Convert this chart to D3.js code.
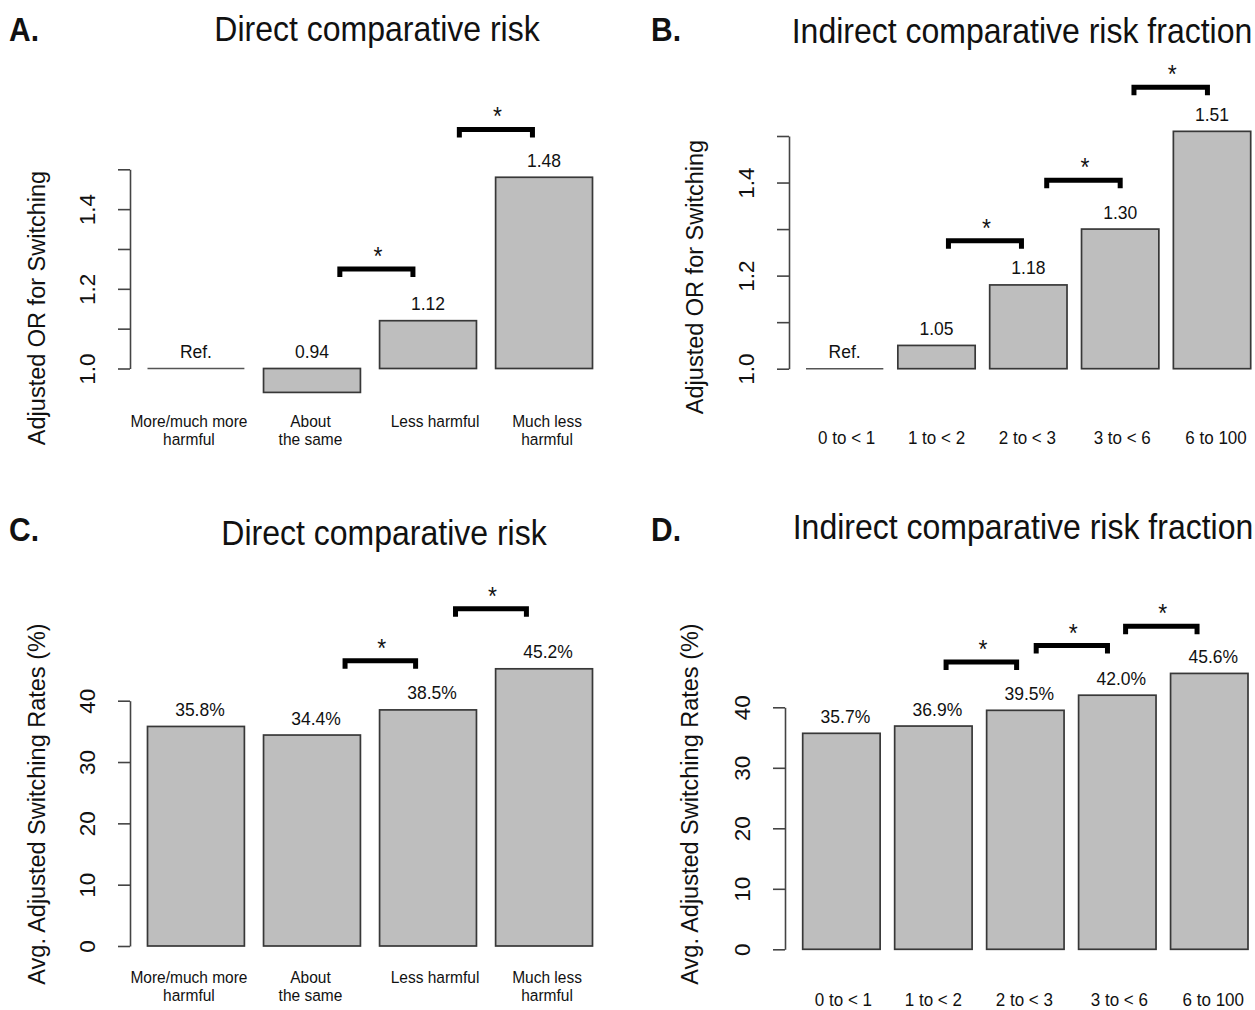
<!DOCTYPE html>
<html>
<head>
<meta charset="utf-8">
<script src="https://cdn.jsdelivr.net/npm/d3@7/dist/d3.min.js"></script>
<style>
  html, body { margin: 0; padding: 0; background: #fff; }
  svg { display: block; }
  text { font-family: "Liberation Sans", Arial, Helvetica, sans-serif; fill: #111; }
</style>
</head>
<body>
<svg id="chart" width="1255" height="1010"></svg>
<script>
// ---------------- DATA ----------------
const directCategories   = ["More/much more\nharmful", "About\nthe same", "Less harmful", "Much less\nharmful"];
const indirectCategories = ["0 to < 1", "1 to < 2", "2 to < 3", "3 to < 6", "6 to 100"];

const orDirectValues   = [1.00, 0.94, 1.12, 1.48];
const orDirectLabels   = ["Ref.", "0.94", "1.12", "1.48"];
const orIndirectValues = [1.00, 1.05, 1.18, 1.30, 1.51];
const orIndirectLabels = ["Ref.", "1.05", "1.18", "1.30", "1.51"];

const rateDirectValues   = [35.8, 34.4, 38.5, 45.2];
const rateDirectLabels   = ["35.8%", "34.4%", "38.5%", "45.2%"];
const rateIndirectValues = [35.7, 36.9, 39.5, 42.0, 45.6];
const rateIndirectLabels = ["35.7%", "36.9%", "39.5%", "42.0%", "45.6%"];

// significance brackets: [from (category index), to (category index), height (data units)]
const orDirectBrackets     = [[1.24, 1.87, 1.25], [2.27, 2.90, 1.60]];
const orIndirectBrackets   = [[1.13, 1.925, 1.275], [2.20, 3.00, 1.405], [3.15, 3.95, 1.605]];
const rateDirectBrackets   = [[1.285, 1.893, 46.5], [2.237, 2.848, 55.0]];
const rateIndirectBrackets = [[1.138, 1.905, 47.5], [2.118, 2.893, 50.2], [3.09, 3.867, 53.4]];

const orTicks        = [1.0, 1.1, 1.2, 1.3, 1.4, 1.5];
const orTickLabels   = ["1.0", "", "1.2", "", "1.4", ""];
const rateTicks      = [0, 10, 20, 30, 40];
const rateTickLabels = ["0", "10", "20", "30", "40"];

const panelLetters = ["A.", "B.", "C.", "D."];
const panelTitles  = ["Direct comparative risk", "Indirect comparative risk fraction",
                      "Direct comparative risk", "Indirect comparative risk fraction"];
const yTitles      = ["Adjusted OR for Switching", "Adjusted OR for Switching",
                      "Avg. Adjusted Switching Rates (%)", "Avg. Adjusted Switching Rates (%)"];

// ---------------- LAYOUT ----------------
const svg = d3.select("#chart");
const FONT = '"Liberation Sans", Arial, Helvetica, sans-serif';
const STRETCH = 1.09; // vertical stretch of horizontal text in the reference

function hText(g, x, y, size, str, anchor) {
  return g.append("text")
    .attr("transform", `translate(${x},${y}) scale(1,${STRETCH})`)
    .attr("text-anchor", anchor || "start")
    .style("font-size", size + "px")
    .text(str);
}

const panels = [
  { cats: directCategories, values: orDirectValues, labels: orDirectLabels, brackets: orDirectBrackets,
    ticks: orTicks, tickLabels: orTickLabels, base: 1.0,
    yDomain: [1.0, 1.5], yRange: [368.5, 169.3], xRange: [147.5, 592.5], pad: 0.165, axisX: 130,
    letterX: 9, letterY: 41, titleX: 377, titleY: 41, yTitleX: 45, yTitleY: 308,
    catY: 427, catFont: 15.5, catDx: [-7, -1.5, 7, 3], labelDx: 0 },
  { cats: indirectCategories, values: orIndirectValues, labels: orIndirectLabels, brackets: orIndirectBrackets,
    ticks: orTicks, tickLabels: orTickLabels, base: 1.0,
    yDomain: [1.0, 1.5], yRange: [368.7, 136], xRange: [806, 1250.7], pad: 0.158, axisX: 789,
    letterX: 651, letterY: 41, titleX: 1022, titleY: 43, yTitleX: 703, yTitleY: 277,
    catY: 444, catFont: 17, catDx: [2, 0, -1, 2, 4], labelDx: 0 },
  { cats: directCategories, values: rateDirectValues, labels: rateDirectLabels, brackets: rateDirectBrackets,
    ticks: rateTicks, tickLabels: rateTickLabels, base: 0,
    yDomain: [0, 40], yRange: [946, 700.7], xRange: [147.5, 592.5], pad: 0.165, axisX: 130,
    letterX: 9, letterY: 541, titleX: 384, titleY: 545, yTitleX: 45, yTitleY: 804,
    catY: 983, catFont: 15.5, catDx: [-7, -1.5, 7, 3], labelDx: 4 },
  { cats: indirectCategories, values: rateIndirectValues, labels: rateIndirectLabels, brackets: rateIndirectBrackets,
    ticks: rateTicks, tickLabels: rateTickLabels, base: 0,
    yDomain: [0, 40], yRange: [949.3, 707.3], xRange: [802.7, 1248], pad: 0.158, axisX: 785,
    letterX: 651, letterY: 541, titleX: 1023, titleY: 539, yTitleX: 698, yTitleY: 804,
    catY: 1006, catFont: 17, catDx: [2, 0, -1, 2, 4], labelDx: 4 }
];

panels.forEach((p, k) => {
  const g = svg.append("g");
  const n = p.values.length;
  const x = d3.scaleBand().domain(d3.range(n)).range(p.xRange).paddingInner(p.pad).paddingOuter(0);
  const y = d3.scaleLinear().domain(p.yDomain).range(p.yRange);
  const cx = i => x(0) + x.bandwidth() / 2 + i * x.step();

  // panel letter and title
  hText(g, p.letterX, p.letterY, 30, panelLetters[k]).style("font-weight", "bold");
  hText(g, p.titleX, p.titleY, 32, panelTitles[k], "middle");

  // y axis title
  g.append("text").attr("transform", `translate(${p.yTitleX},${p.yTitleY}) rotate(-90)`)
    .attr("text-anchor", "middle").style("font-size", "23.5px").text(yTitles[k]);

  // y axis
  const ax = g.append("g").attr("transform", `translate(${p.axisX},0)`)
    .call(d3.axisLeft(y).tickValues(p.ticks).tickFormat((d, i) => p.tickLabels[i])
      .tickSize(12).tickSizeOuter(0));
  ax.select(".domain").attr("stroke", "#444").attr("stroke-width", 1.6);
  ax.selectAll(".tick line").attr("stroke", "#444").attr("stroke-width", 1.6);
  ax.selectAll(".tick text")
    .attr("x", 0).attr("y", -35).attr("dy", null)
    .attr("transform", "rotate(-90)").attr("text-anchor", "middle")
    .style("font-size", "22.5px").style("font-family", FONT).attr("fill", "#111");

  // bars
  p.values.forEach((v, i) => {
    if (v === p.base) {
      g.append("line").attr("x1", x(i)).attr("x2", x(i) + x.bandwidth())
        .attr("y1", y(p.base)).attr("y2", y(p.base))
        .attr("stroke", "#555").attr("stroke-width", 1.6);
    } else {
      const top = y(Math.max(v, p.base)), bot = y(Math.min(v, p.base));
      g.append("rect").attr("x", x(i)).attr("y", top)
        .attr("width", x.bandwidth()).attr("height", bot - top)
        .attr("fill", "#bebebe").attr("stroke", "#383838").attr("stroke-width", 1.7);
    }
    // value label
    hText(g, cx(i) + p.labelDx, y(Math.max(v, p.base)) - 10.5, 17.5, p.labels[i], "middle")
      .attr("fill", "#222");
    // category label
    const lines = p.cats[i].split("\n");
    const t = hText(g, cx(i) + p.catDx[i], p.catY, p.catFont, null, "middle").attr("fill", "#222");
    lines.forEach((ln, j) => {
      t.append("tspan").attr("x", 0).attr("y", j * 16.2).text(ln);
    });
  });

  // significance brackets
  p.brackets.forEach(([a, b, h]) => {
    const x1 = cx(a), x2 = cx(b), yy = y(h);
    g.append("path")
      .attr("d", `M${x1},${yy + 8} V${yy} H${x2} V${yy + 8}`)
      .attr("fill", "none").attr("stroke", "#000").attr("stroke-width", 5)
      .attr("stroke-linejoin", "miter");
    hText(g, (x1 + x2) / 2 + 1.5, yy - 17.5 + 13.5, 23, "*", "middle");
  });
});
</script>
</body>
</html>
